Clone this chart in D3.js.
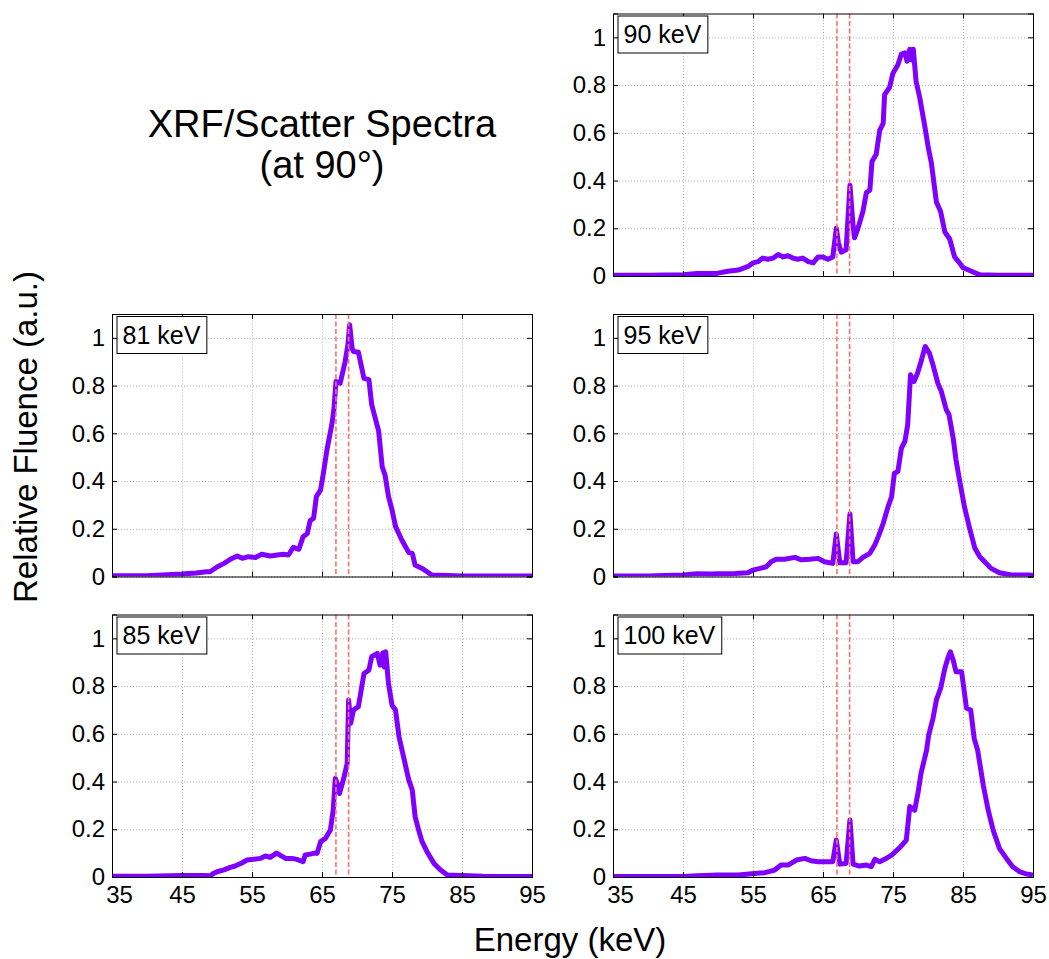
<!DOCTYPE html>
<meta charset="utf-8">
<style>
body { margin: 0; background: #fff; }
svg { display: block; font-family: "Liberation Sans", Arial, Helvetica, sans-serif; }
</style>
<svg width="1049" height="959"></svg>
<script src="https://cdn.jsdelivr.net/npm/d3@7/dist/d3.min.js"></script>
<script>

// energy (keV) / relative fluence for each beam energy
var e81 = [35, 40, 45, 47, 48.5, 49, 50, 51, 51.9, 52.9, 53.6, 54.5, 55.5, 56.4, 57.6, 58.6, 59.5, 60.2, 60.9, 61.7, 62.3, 62.9, 63.3, 63.8, 64.2, 64.8, 65.2, 65.7, 66.4, 66.7, 67, 67.6, 68.3, 68.7, 68.95, 69.3, 69.5, 70.2, 71, 71.7, 72.1, 73.1, 73.6, 74, 74.5, 75, 75.5, 76.4, 77.4, 77.9, 78.3, 79.3, 80, 80.7, 85, 95];
var f81 = [0.003, 0.003, 0.01, 0.015, 0.02, 0.02, 0.04, 0.055, 0.072, 0.086, 0.076, 0.083, 0.08, 0.093, 0.086, 0.09, 0.093, 0.09, 0.122, 0.114, 0.167, 0.18, 0.234, 0.244, 0.335, 0.363, 0.433, 0.53, 0.636, 0.70, 0.817, 0.81, 0.90, 0.97, 1.055, 0.957, 0.943, 0.94, 0.83, 0.825, 0.72, 0.608, 0.46, 0.426, 0.335, 0.28, 0.21, 0.153, 0.1, 0.097, 0.048, 0.034, 0.02, 0.006, 0.002, 0.002];

var e85 = [35, 40, 45, 48, 49, 49.5, 50, 51, 51.9, 52.6, 53.6, 54.3, 55.2, 56.2, 56.9, 57.6, 58.5, 59, 59.8, 60.7, 61.4, 62.3, 62.6, 63.3, 63.9, 64.3, 64.8, 65.5, 66.2, 66.6, 66.9, 67.2, 67.5, 68.1, 68.6, 68.8, 69.1, 69.5, 70.2, 71, 71.7, 72.1, 72.9, 73.3, 73.7, 73.9, 74.1, 74.5, 75, 75.5, 76, 76.7, 77.4, 77.9, 78.3, 78.8, 79.3, 80, 81, 81.9, 82.9, 88, 95];
var f85 = [0.003, 0.003, 0.006, 0.006, 0.005, 0.015, 0.022, 0.03, 0.04, 0.046, 0.06, 0.071, 0.074, 0.078, 0.088, 0.082, 0.10, 0.092, 0.078, 0.078, 0.074, 0.064, 0.092, 0.096, 0.10, 0.099, 0.148, 0.162, 0.197, 0.28, 0.413, 0.39, 0.35, 0.413, 0.476, 0.742, 0.644, 0.70, 0.714, 0.853, 0.867, 0.923, 0.937, 0.888, 0.94, 0.88, 0.944, 0.81, 0.72, 0.70, 0.588, 0.497, 0.406, 0.364, 0.253, 0.197, 0.148, 0.106, 0.057, 0.03, 0.008, 0.003, 0.002];

var e90 = [35, 40, 45, 47, 49, 50, 51.4, 52.9, 54.3, 55, 55.7, 56.4, 57.1, 57.9, 58.6, 59.3, 60, 60.7, 61.4, 62.1, 62.9, 63.6, 64.3, 65, 65.7, 66.4, 66.9, 67.2, 67.6, 68.3, 68.85, 69.3, 69.5, 70, 70.7, 71.2, 71.7, 72, 72.6, 73.1, 73.6, 73.8, 74.5, 75, 75.7, 76.2, 76.7, 77, 77.4, 77.6, 77.9, 78.3, 78.8, 79.5, 80, 80.5, 81.2, 81.8, 82.4, 83.1, 83.8, 84.5, 85, 86.2, 87.4, 90, 95];
var f90 = [0.003, 0.003, 0.005, 0.01, 0.01, 0.012, 0.02, 0.025, 0.04, 0.055, 0.06, 0.075, 0.07, 0.075, 0.09, 0.08, 0.085, 0.075, 0.07, 0.075, 0.06, 0.055, 0.08, 0.08, 0.07, 0.08, 0.20, 0.14, 0.10, 0.11, 0.38, 0.21, 0.16, 0.20, 0.27, 0.35, 0.36, 0.48, 0.51, 0.61, 0.64, 0.76, 0.79, 0.85, 0.885, 0.93, 0.935, 0.90, 0.95, 0.905, 0.95, 0.815, 0.75, 0.635, 0.545, 0.47, 0.31, 0.27, 0.185, 0.155, 0.08, 0.055, 0.035, 0.02, 0.005, 0.003, 0.003];

var e95 = [35, 40, 45, 47, 49, 50, 52.4, 54.3, 55, 56, 56.9, 57.6, 58.3, 59.5, 61, 61.9, 63.1, 64.3, 65.2, 66.4, 66.9, 67.4, 68.3, 68.85, 69.3, 70, 70.7, 71.7, 72.4, 72.9, 73.6, 74.3, 74.8, 75.2, 75.7, 76.2, 76.7, 77.1, 77.5, 78, 78.5, 79, 79.6, 80.2, 80.7, 81.4, 81.9, 82.6, 83, 83.6, 84, 84.5, 85.2, 86, 86.7, 87.4, 88.1, 89, 90.2, 91.9, 94.3, 95];
var f95 = [0.002, 0.002, 0.006, 0.012, 0.01, 0.012, 0.013, 0.016, 0.027, 0.034, 0.041, 0.062, 0.072, 0.072, 0.08, 0.07, 0.072, 0.076, 0.062, 0.055, 0.178, 0.058, 0.058, 0.262, 0.062, 0.062, 0.08, 0.097, 0.132, 0.167, 0.223, 0.293, 0.335, 0.433, 0.44, 0.538, 0.566, 0.636, 0.845, 0.817, 0.852, 0.90, 0.964, 0.936, 0.888, 0.81, 0.776, 0.70, 0.678, 0.58, 0.489, 0.405, 0.293, 0.195, 0.118, 0.083, 0.062, 0.034, 0.016, 0.006, 0.006, 0.005];

var e100 = [35, 40, 45, 47, 50, 52.9, 55.2, 56.7, 58.1, 59, 60, 61.2, 62.4, 63.3, 64.3, 65.2, 66.4, 66.9, 67.4, 68.3, 68.85, 69.3, 70.2, 71.2, 71.9, 72.4, 73.1, 73.8, 74.8, 76, 76.9, 77.4, 78.1, 78.6, 79, 79.8, 80.1, 80.7, 81.2, 81.8, 82.4, 82.9, 83.2, 83.6, 84, 84.8, 85.5, 86.1, 86.6, 87.1, 87.9, 88.6, 89.3, 90.2, 91.2, 92.1, 93.1, 94, 95];
var f100 = [0.002, 0.002, 0.002, 0.005, 0.008, 0.008, 0.015, 0.018, 0.029, 0.05, 0.05, 0.071, 0.078, 0.068, 0.064, 0.064, 0.064, 0.155, 0.054, 0.057, 0.239, 0.054, 0.046, 0.05, 0.043, 0.074, 0.064, 0.074, 0.092, 0.124, 0.155, 0.295, 0.28, 0.357, 0.434, 0.532, 0.595, 0.663, 0.742, 0.79, 0.874, 0.923, 0.944, 0.909, 0.86, 0.86, 0.707, 0.70, 0.581, 0.53, 0.384, 0.28, 0.197, 0.12, 0.078, 0.043, 0.022, 0.013, 0.008];

// gold K-alpha lines
var kLines = [66.99, 68.80];

var xTicks = [35, 45, 55, 65, 75, 85, 95];
var yTicks = [0, 0.2, 0.4, 0.6, 0.8, 1];

var panels = [
  {label: "90 keV",  e: e90,  f: f90,  col: 1, row: 0, xLabels: false},
  {label: "81 keV",  e: e81,  f: f81,  col: 0, row: 1, xLabels: false},
  {label: "95 keV",  e: e95,  f: f95,  col: 1, row: 1, xLabels: false},
  {label: "85 keV",  e: e85,  f: f85,  col: 0, row: 2, xLabels: true},
  {label: "100 keV", e: e100, f: f100, col: 1, row: 2, xLabels: true}
];

var svg = d3.select("svg").style("background", "white"),
    colX = [112, 613],
    rowY = [13.5, 314, 614.5],
    width = 420,
    height = 262.5;

var x = d3.scaleLinear().domain([35, 95]).range([0, width]);
var y = d3.scaleLinear().domain([0, 1.1]).range([height, 0]);

var line = d3.line()
    .x(function(d) { return x(d[0]); })
    .y(function(d) { return y(d[1]); });

panels.forEach(function(p, i) {
  var g = svg.append("g")
      .attr("transform", "translate(" + colX[p.col] + "," + rowY[p.row] + ")");

  g.append("clipPath").attr("id", "clip" + i)
    .append("rect").attr("width", width).attr("height", height);

  // dotted grid
  g.append("g")
      .attr("class", "grid")
      .call(d3.axisLeft(y).tickValues(yTicks).tickSize(-width).tickFormat(""));
  g.append("g")
      .attr("class", "grid")
      .attr("transform", "translate(0," + height + ")")
      .call(d3.axisBottom(x).tickValues(xTicks).tickSize(-height).tickFormat(""));
  g.selectAll(".grid .domain").remove();
  g.selectAll(".grid line")
      .attr("stroke", "#b4b4b4")
      .attr("stroke-width", 1)
      .attr("stroke-dasharray", "1,2");

  var pts = d3.zip(p.e, p.f);
  g.append("path")
      .datum(pts)
      .attr("clip-path", "url(#clip" + i + ")")
      .attr("fill", "none")
      .attr("stroke", "#7f00ff")
      .attr("stroke-width", 5)
      .attr("stroke-linejoin", "round")
      .attr("d", line);

  g.selectAll(".kline")
    .data(kLines)
    .enter().append("line")
      .attr("class", "kline")
      .attr("x1", function(d) { return x(d); })
      .attr("x2", function(d) { return x(d); })
      .attr("y1", 0)
      .attr("y2", height)
      .attr("stroke", "#ff6e6e")
      .attr("stroke-width", 1.6)
      .attr("stroke-dasharray", "5,2.5");

  // axes with inward ticks on all four sides
  var xBottom = g.append("g").attr("transform", "translate(0," + height + ")")
        .call(d3.axisBottom(x).tickValues(xTicks).tickSize(-5).tickPadding(9)
          .tickFormat(p.xLabels ? d3.format("d") : ""));
  // first energy label sits a little right so it clears the "0"
  xBottom.selectAll(".tick text").filter(function(d) { return d === 35; })
      .attr("dx", 7);

  var ax = [
    g.append("g").call(d3.axisLeft(y).tickValues(yTicks).tickSize(-5).tickPadding(7)
        .tickFormat(d3.format(""))),
    g.append("g").attr("transform", "translate(" + width + ",0)")
        .call(d3.axisRight(y).tickValues(yTicks).tickSize(-5).tickFormat("")),
    g.append("g").call(d3.axisTop(x).tickValues(xTicks).tickSize(-5).tickFormat("")),
    xBottom
  ];
  ax.forEach(function(a) {
    a.attr("font-family", null).attr("font-size", 24);
    a.selectAll("path.domain").attr("stroke", "#000").attr("stroke-width", 1);
    a.selectAll("line").attr("stroke", "#000");
    a.selectAll("text").attr("fill", "#000");
  });

  // label box
  var lab = g.append("g").attr("transform", "translate(5,2.5)");
  var rect = lab.append("rect")
      .attr("height", 37)
      .attr("fill", "#fff")
      .attr("stroke", "#000")
      .attr("stroke-width", 1);
  var txt = lab.append("text")
      .attr("x", 5.5)
      .attr("y", 27)
      .attr("font-size", 25)
      .text(p.label);
  rect.attr("width", txt.node().getComputedTextLength() + 12);
});

// title
svg.append("text")
    .attr("x", 322)
    .attr("y", 137)
    .attr("text-anchor", "middle")
    .attr("font-size", 38)
    .text("XRF/Scatter Spectra");
svg.append("text")
    .attr("x", 322)
    .attr("y", 178)
    .attr("text-anchor", "middle")
    .attr("font-size", 38)
    .text("(at 90\u00b0)");

// axis titles
svg.append("text")
    .attr("transform", "translate(37,437) rotate(-90)")
    .attr("text-anchor", "middle")
    .attr("font-size", 33)
    .text("Relative Fluence (a.u.)");
svg.append("text")
    .attr("x", 570)
    .attr("y", 951)
    .attr("text-anchor", "middle")
    .attr("font-size", 33)
    .text("Energy (keV)");

</script>
